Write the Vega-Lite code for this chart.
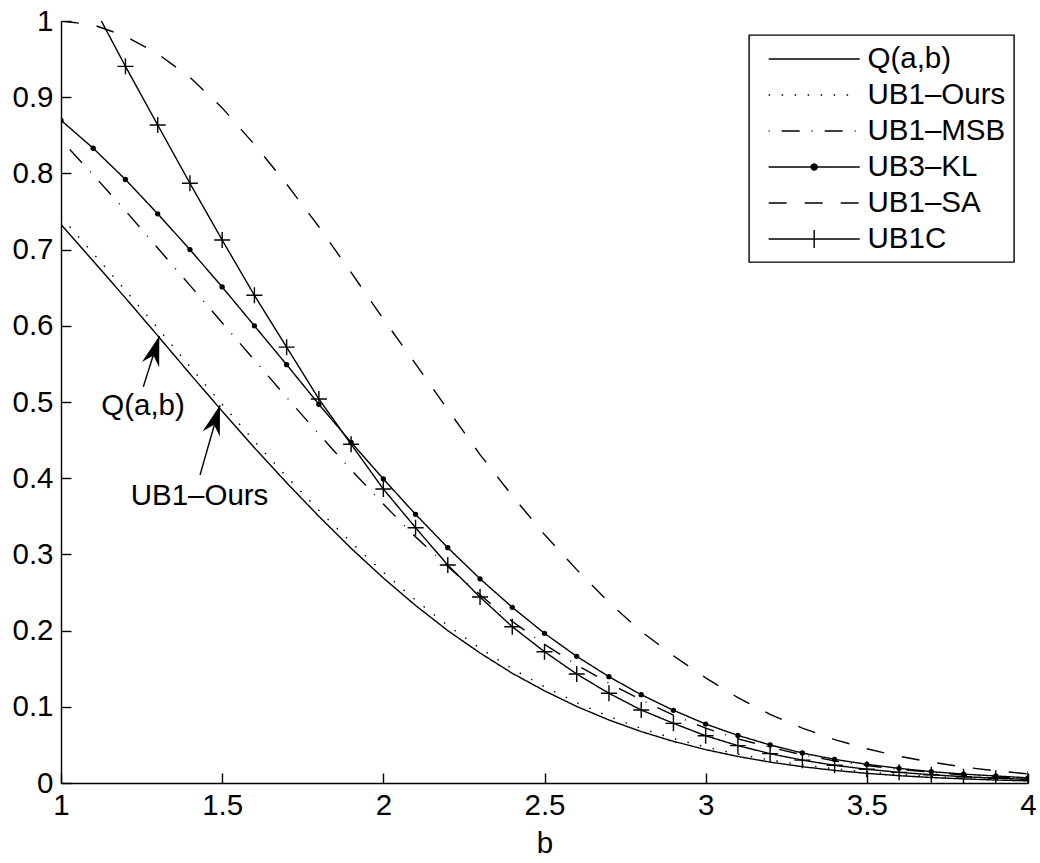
{
  "$schema": "https://vega.github.io/schema/vega-lite/v6.json",
  "width": 967,
  "height": 762,
  "autosize": "none",
  "padding": {"left": 61, "top": 21, "right": 12, "bottom": 80},
  "background": "white",
  "config": {
    "font": "Liberation Sans",
    "view": {"stroke": null},
    "axis": {
      "grid": false,
      "domainColor": "black",
      "domainWidth": 1.4,
      "tickColor": "black",
      "tickWidth": 1.4,
      "tickSize": -10,
      "labelFlush": false,
      "labelColor": "black",
      "labelFont": "Liberation Sans",
      "labelFontSize": 29.5,
      "titleFont": "Liberation Sans",
      "titleFontSize": 29.5,
      "titleFontWeight": "normal",
      "titleColor": "black"
    }
  },
  "datasets": {
    "curves": [
      {"b": 1.0, "Q(a,b)": 0.733, "UB1–Ours": 0.743, "UB1–MSB": 0.844, "UB3–KL": 0.8697, "UB1–SA": 1.0},
      {"b": 1.1, "Q(a,b)": 0.685, "UB1–Ours": 0.695, "UB1–MSB": 0.798, "UB3–KL": 0.833, "UB1–SA": 0.995, "UB1C": 1.02},
      {"b": 1.2, "Q(a,b)": 0.6365, "UB1–Ours": 0.6465, "UB1–MSB": 0.751, "UB3–KL": 0.792, "UB1–SA": 0.98, "UB1C": 0.9405},
      {"b": 1.3, "Q(a,b)": 0.587, "UB1–Ours": 0.597, "UB1–MSB": 0.702, "UB3–KL": 0.747, "UB1–SA": 0.957, "UB1C": 0.8635},
      {"b": 1.4, "Q(a,b)": 0.537, "UB1–Ours": 0.5465, "UB1–MSB": 0.653, "UB3–KL": 0.7, "UB1–SA": 0.926, "UB1C": 0.787},
      {"b": 1.5, "Q(a,b)": 0.488, "UB1–Ours": 0.497, "UB1–MSB": 0.604, "UB3–KL": 0.651, "UB1–SA": 0.886, "UB1C": 0.7126},
      {"b": 1.6, "Q(a,b)": 0.44, "UB1–Ours": 0.4485, "UB1–MSB": 0.555, "UB3–KL": 0.6, "UB1–SA": 0.838, "UB1C": 0.64},
      {"b": 1.7, "Q(a,b)": 0.394, "UB1–Ours": 0.402, "UB1–MSB": 0.506, "UB3–KL": 0.549, "UB1–SA": 0.786, "UB1C": 0.572},
      {"b": 1.8, "Q(a,b)": 0.35, "UB1–Ours": 0.358, "UB1–MSB": 0.458, "UB3–KL": 0.497, "UB1–SA": 0.73, "UB1C": 0.504},
      {"b": 1.9, "Q(a,b)": 0.308, "UB1–Ours": 0.3157, "UB1–MSB": 0.411, "UB3–KL": 0.447, "UB1–SA": 0.67, "UB1C": 0.4445},
      {"b": 2.0, "Q(a,b)": 0.269, "UB1–Ours": 0.2765, "UB1–MSB": 0.366, "UB3–KL": 0.399, "UB1–SA": 0.609, "UB1C": 0.3858},
      {"b": 2.1, "Q(a,b)": 0.233, "UB1–Ours": 0.24, "UB1–MSB": 0.323, "UB3–KL": 0.3526, "UB1–SA": 0.55, "UB1C": 0.335},
      {"b": 2.2, "Q(a,b)": 0.2, "UB1–Ours": 0.2066, "UB1–MSB": 0.284, "UB3–KL": 0.3088, "UB1–SA": 0.49, "UB1C": 0.286},
      {"b": 2.3, "Q(a,b)": 0.1706, "UB1–Ours": 0.1768, "UB1–MSB": 0.247, "UB3–KL": 0.268, "UB1–SA": 0.431, "UB1C": 0.244},
      {"b": 2.4, "Q(a,b)": 0.144, "UB1–Ours": 0.1498, "UB1–MSB": 0.212, "UB3–KL": 0.2306, "UB1–SA": 0.377, "UB1C": 0.2051},
      {"b": 2.5, "Q(a,b)": 0.121, "UB1–Ours": 0.1264, "UB1–MSB": 0.182, "UB3–KL": 0.1964, "UB1–SA": 0.326, "UB1C": 0.1723},
      {"b": 2.6, "Q(a,b)": 0.1004, "UB1–Ours": 0.1054, "UB1–MSB": 0.155, "UB3–KL": 0.1662, "UB1–SA": 0.28, "UB1C": 0.143},
      {"b": 2.7, "Q(a,b)": 0.0827, "UB1–Ours": 0.0873, "UB1–MSB": 0.131, "UB3–KL": 0.1395, "UB1–SA": 0.237, "UB1C": 0.1177},
      {"b": 2.8, "Q(a,b)": 0.0675, "UB1–Ours": 0.0717, "UB1–MSB": 0.109, "UB3–KL": 0.1159, "UB1–SA": 0.199, "UB1C": 0.0958},
      {"b": 2.9, "Q(a,b)": 0.0546, "UB1–Ours": 0.0584, "UB1–MSB": 0.089, "UB3–KL": 0.0954, "UB1–SA": 0.167, "UB1C": 0.0783},
      {"b": 3.0, "Q(a,b)": 0.0438, "UB1–Ours": 0.0472, "UB1–MSB": 0.072, "UB3–KL": 0.0774, "UB1–SA": 0.138, "UB1C": 0.062},
      {"b": 3.1, "Q(a,b)": 0.0348, "UB1–Ours": 0.0378, "UB1–MSB": 0.058, "UB3–KL": 0.0625, "UB1–SA": 0.112, "UB1C": 0.049},
      {"b": 3.2, "Q(a,b)": 0.0274, "UB1–Ours": 0.0301, "UB1–MSB": 0.047, "UB3–KL": 0.0499, "UB1–SA": 0.09, "UB1C": 0.0385},
      {"b": 3.3, "Q(a,b)": 0.0214, "UB1–Ours": 0.0238, "UB1–MSB": 0.037, "UB3–KL": 0.0394, "UB1–SA": 0.072, "UB1C": 0.03},
      {"b": 3.4, "Q(a,b)": 0.0165, "UB1–Ours": 0.0186, "UB1–MSB": 0.029, "UB3–KL": 0.031, "UB1–SA": 0.057, "UB1C": 0.0232},
      {"b": 3.5, "Q(a,b)": 0.0127, "UB1–Ours": 0.0145, "UB1–MSB": 0.023, "UB3–KL": 0.0245, "UB1–SA": 0.045, "UB1C": 0.018},
      {"b": 3.6, "Q(a,b)": 0.0096, "UB1–Ours": 0.0111, "UB1–MSB": 0.018, "UB3–KL": 0.0192, "UB1–SA": 0.035, "UB1C": 0.014},
      {"b": 3.7, "Q(a,b)": 0.0072, "UB1–Ours": 0.0084, "UB1–MSB": 0.014, "UB3–KL": 0.0149, "UB1–SA": 0.0275, "UB1C": 0.0108},
      {"b": 3.8, "Q(a,b)": 0.0054, "UB1–Ours": 0.0064, "UB1–MSB": 0.0105, "UB3–KL": 0.0117, "UB1–SA": 0.021, "UB1C": 0.0083},
      {"b": 3.9, "Q(a,b)": 0.0039, "UB1–Ours": 0.0047, "UB1–MSB": 0.008, "UB3–KL": 0.0092, "UB1–SA": 0.016, "UB1C": 0.0063},
      {"b": 4.0, "Q(a,b)": 0.0029, "UB1–Ours": 0.0035, "UB1–MSB": 0.006, "UB3–KL": 0.0068, "UB1–SA": 0.012, "UB1C": 0.0048}
    ],
    "notes": [
      {"label": "Q(a,b)", "b": 1.2544, "v": 0.483},
      {"label": "UB1–Ours", "b": 1.4297, "v": 0.3648}
    ],
    "arrows": [
      {"b": 1.305, "v": 0.5866, "b2": 1.2554, "v2": 0.52},
      {"b": 1.4933, "v": 0.4957, "b2": 1.4313, "v2": 0.4042}
    ]
  },
  "encoding": {
    "x": {
      "field": "b", "type": "quantitative",
      "scale": {"domain": [1, 4], "nice": false, "zero": false},
      "axis": {"values": [1, 1.5, 2, 2.5, 3, 3.5, 4], "format": "~g", "title": "b", "labelPadding": 18, "titlePadding": 10}
    },
    "y": {
      "field": "v", "type": "quantitative",
      "scale": {"domain": [0, 1], "nice": false, "zero": false},
      "axis": {"values": [0, 0.1, 0.2, 0.3, 0.4, 0.5, 0.6, 0.7, 0.8, 0.9, 1], "format": "~g", "title": null, "labelPadding": 18}
    }
  },
  "layer": [
    {
      "data": {"name": "curves"},
      "transform": [
        {"fold": ["Q(a,b)", "UB1–Ours", "UB1–MSB", "UB3–KL", "UB1–SA", "UB1C"], "as": ["s", "v"]},
        {"filter": "isValid(datum.v)"}
      ],
      "layer": [
        {
          "mark": {"type": "line", "color": "black", "strokeWidth": 1.4, "clip": true},
          "encoding": {
            "strokeDash": {
              "field": "s", "type": "nominal",
              "scale": {
                "domain": ["Q(a,b)", "UB1–Ours", "UB1–MSB", "UB3–KL", "UB1–SA", "UB1C"],
                "range": [[1, 0], [1.5, 11.5], [1, 12, 18, 12], [1, 0], [18, 18], [1, 0]]
              },
              "legend": {
                "title": null, "orient": "top-right", "offset": 14, "padding": 8,
                "strokeColor": "black", "fillColor": "white",
                "labelFont": "Liberation Sans", "labelFontSize": 29.5, "labelColor": "black", "labelLimit": 400,
                "labelOffset": 78.5, "rowPadding": 5, "symbolSize": 900, "symbolStrokeWidth": 1.4,
                "symbolStrokeColor": "black", "symbolFillColor": "black", "symbolOpacity": 1,
                "encode": {
                  "legend": {"update": {"strokeWidth": {"value": 1.4}}},
                  "symbols": {"update": {"opacity": {"value": 1}, "fill": {"value": "black"}, "stroke": {"value": "black"}, "strokeWidth": {"value": 1.4}, "size": {"value": 900}}}
                }
              }
            }
          }
        },
        {
          "transform": [{"filter": "datum.s === 'UB3–KL'"}],
          "mark": {"type": "point", "shape": "circle", "filled": true, "color": "black", "size": 28, "opacity": 1, "clip": true}
        },
        {
          "transform": [{"filter": "datum.s === 'UB1C'"}],
          "mark": {"type": "point", "shape": "M-1,0H1M0,-1V1", "filled": false, "color": "black", "strokeWidth": 1.4, "size": 256, "opacity": 1, "clip": true}
        },
        {
          "mark": {"type": "point", "opacity": 0, "size": 900, "filled": false, "color": "black", "clip": true},
          "encoding": {
            "shape": {
              "field": "s", "type": "nominal",
              "scale": {
                "domain": ["Q(a,b)", "UB1–Ours", "UB1–MSB", "UB3–KL", "UB1–SA", "UB1C"],
                "range": [
                  "M-0.29,0H5.78",
                  "M-0.29,0H5.78",
                  "M-0.29,0H5.78",
                  "M-0.29,0H5.78M2.545,0A0.2,0.2,0,1,0,2.945,0A0.2,0.2,0,1,0,2.545,0Z",
                  "M-0.29,0H5.78",
                  "M-0.29,0H5.78M2.745,-0.6V0.6"
                ]
              },
              "legend": {
                "title": null, "orient": "top-right", "offset": 14, "padding": 8,
                "strokeColor": "black", "fillColor": "white",
                "labelFont": "Liberation Sans", "labelFontSize": 29.5, "labelColor": "black", "labelLimit": 400,
                "labelOffset": 78.5, "rowPadding": 5, "symbolSize": 900, "symbolStrokeWidth": 1.4,
                "symbolStrokeColor": "black", "symbolFillColor": "black", "symbolOpacity": 1,
                "encode": {
                  "legend": {"update": {"strokeWidth": {"value": 1.4}}},
                  "symbols": {"update": {"opacity": {"value": 1}, "fill": {"value": "black"}, "stroke": {"value": "black"}, "strokeWidth": {"value": 1.4}, "size": {"value": 900}}}
                }
              }
            },
            "strokeDash": {
              "field": "s", "type": "nominal",
              "scale": {
                "domain": ["Q(a,b)", "UB1–Ours", "UB1–MSB", "UB3–KL", "UB1–SA", "UB1C"],
                "range": [[1, 0], [1.5, 11.5], [1, 12, 18, 12], [1, 0], [18, 18], [1, 0]]
              },
              "legend": {
                "title": null, "orient": "top-right", "offset": 14, "padding": 8,
                "strokeColor": "black", "fillColor": "white",
                "labelFont": "Liberation Sans", "labelFontSize": 29.5, "labelColor": "black", "labelLimit": 400,
                "labelOffset": 78.5, "rowPadding": 5, "symbolSize": 900, "symbolStrokeWidth": 1.4,
                "symbolStrokeColor": "black", "symbolFillColor": "black", "symbolOpacity": 1,
                "encode": {
                  "legend": {"update": {"strokeWidth": {"value": 1.4}}},
                  "symbols": {"update": {"opacity": {"value": 1}, "fill": {"value": "black"}, "stroke": {"value": "black"}, "strokeWidth": {"value": 1.4}, "size": {"value": 900}}}
                }
              }
            }
          }
        }
      ]
    },
    {
      "data": {"name": "notes"},
      "mark": {"type": "text", "font": "Liberation Sans", "fontSize": 29.5, "color": "black", "align": "center", "baseline": "alphabetic"},
      "encoding": {
        "text": {"field": "label", "type": "nominal"}
      }
    },
    {
      "data": {"name": "arrows"},
      "mark": {"type": "rule", "color": "black", "strokeWidth": 1.4},
      "encoding": {
        "x2": {"field": "b2"},
        "y2": {"field": "v2"}
      }
    },
    {
      "data": {"name": "arrows"},
      "mark": {"type": "point", "shape": "M0,0L0.6,2L0,1.35L-0.6,2Z", "filled": true, "color": "black", "size": 900, "angle": 17, "opacity": 1}
    }
  ]
}
